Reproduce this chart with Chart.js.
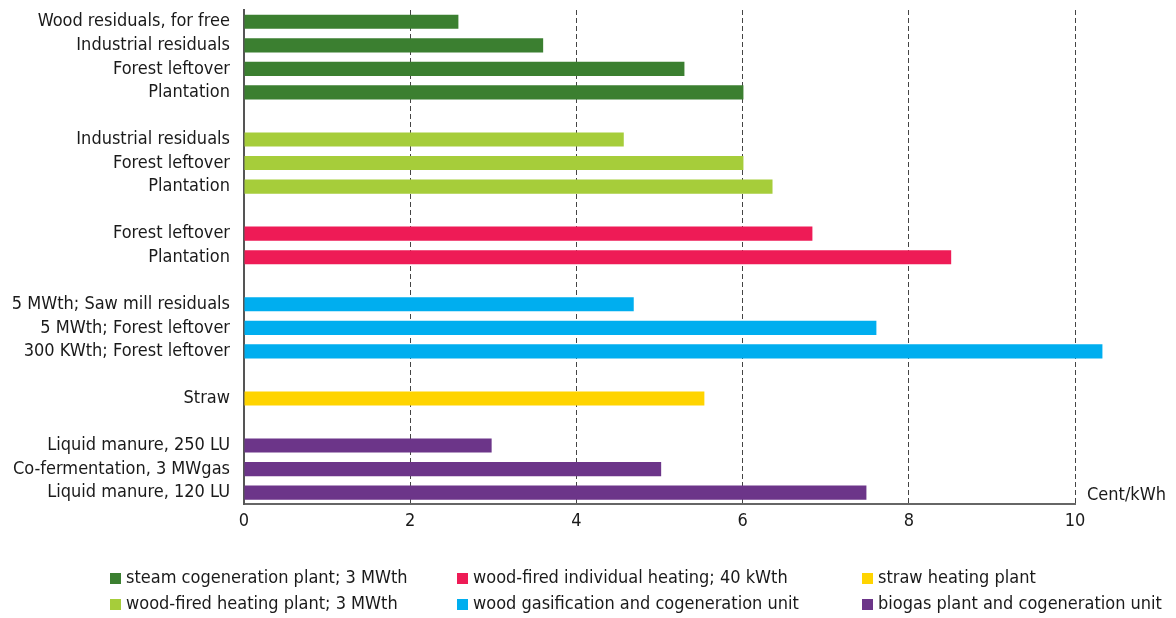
<!DOCTYPE html>
<html lang="en">
<head>
  <meta charset="UTF-8">
  <title>Heat production costs</title>
  <script src="https://cdn.jsdelivr.net/npm/chart.js"></script>
  <style>
    html, body { margin: 0; padding: 0; background: #fff; }
    .wrap { width: 1176px; height: 618px; position: relative; }
  </style>
</head>
<body>

<div class="wrap">
  <canvas id="grafik"></canvas>
</div>

<script>
  // rows top to bottom, '' = gap between groups
  const categories = [
    'Wood residuals, for free', 'Industrial residuals', 'Forest leftover', 'Plantation', '',
    'Industrial residuals', 'Forest leftover', 'Plantation', '',
    'Forest leftover', 'Plantation', '',
    '5 MWth; Saw mill residuals', '5 MWth; Forest leftover', '300 KWth; Forest leftover', '',
    'Straw', '',
    'Liquid manure, 250 LU', 'Co-fermentation, 3 MWgas', 'Liquid manure, 120 LU'
  ];

  const steamCogen   = [2.58, 3.60, 5.30, 6.01, null, null, null, null, null, null, null, null, null, null, null, null, null, null, null, null, null];
  const woodHeating  = [null, null, null, null, null, 4.57, 6.01, 6.36, null, null, null, null, null, null, null, null, null, null, null, null, null];
  const woodIndiv    = [null, null, null, null, null, null, null, null, null, 6.84, 8.51, null, null, null, null, null, null, null, null, null, null];
  const gasification = [null, null, null, null, null, null, null, null, null, null, null, null, 4.69, 7.61, 10.33, null, null, null, null, null, null];
  const strawPlant   = [null, null, null, null, null, null, null, null, null, null, null, null, null, null, null, null, 5.54, null, null, null, null];
  const biogas       = [null, null, null, null, null, null, null, null, null, null, null, null, null, null, null, null, null, null, 2.98, 5.02, 7.49];

  const seriesNames = [
    'steam cogeneration plant; 3 MWth',
    'wood-fired heating plant; 3 MWth',
    'wood-fired individual heating; 40 kWth',
    'wood gasification and cogeneration unit',
    'straw heating plant',
    'biogas plant and cogeneration unit'
  ];
  const seriesValues = [steamCogen, woodHeating, woodIndiv, gasification, strawPlant, biogas];
  const seriesColors = ['#3b7f30', '#a6cd3a', '#ee1b56', '#00aeef', '#ffd400', '#6c3589'];

  const xTicks = [0, 2, 4, 6, 8, 10];
  const unitLabel = 'Cent/kWh';

  const fontFamily = '"Liberation Sans Narrow", "DejaVu Sans Condensed", sans-serif';
  const teksWarna = '#1a1a1a';
  Chart.defaults.font.family = fontFamily;
  Chart.defaults.font.size = 18;
  Chart.defaults.color = teksWarna;

  // legend in 3 columns x 2 rows + unit text at end of axis
  const legendKolom = {
    id: 'legendKolom',
    afterDraw(chart) {
      const ctx = chart.ctx;
      const colX = [110, 457, 862];
      const rowY = [578, 604];
      ctx.save();
      ctx.font = '18px ' + fontFamily;
      ctx.textBaseline = 'middle';
      ctx.textAlign = 'left';
      chart.data.datasets.forEach((ds, i) => {
        const x = colX[Math.floor(i / 2)];
        const y = rowY[i % 2];
        ctx.fillStyle = ds.backgroundColor;
        ctx.fillRect(x, y - 5, 11, 11);
        ctx.fillStyle = teksWarna;
        ctx.fillText(ds.label, x + 16, y);
      });
      const xs = chart.scales.x;
      ctx.fillText(unitLabel, xs.right + 12, chart.chartArea.bottom - 9);
      ctx.restore();
    }
  };

  const ctx = document.getElementById('grafik').getContext('2d');
  const grafik = new Chart(ctx, {
    type: 'bar',
    data: {
      labels: categories,
      datasets: seriesValues.map((vals, i) => ({
        label: seriesNames[i],
        data: vals,
        backgroundColor: seriesColors[i],
        barPercentage: 0.6,
        categoryPercentage: 1.0,
        grouped: false,
        clip: false
      }))
    },
    options: {
      indexAxis: 'y',
      responsive: true,
      maintainAspectRatio: false,
      animation: false,
      layout: { padding: { top: 10, right: 101, bottom: 80, left: 0 } },
      plugins: {
        legend: { display: false },
        tooltip: { enabled: false }
      },
      scales: {
        x: {
          min: 0,
          max: 10,
          afterBuildTicks: (scale) => { scale.ticks = xTicks.map(v => ({ value: v })); },
          ticks: { padding: 6, color: teksWarna, font: { size: 18 } },
          grid: {
            drawTicks: false,
            color: (c) => c.tick && c.tick.value === 0 ? 'rgba(0,0,0,0)' : '#444',
            lineWidth: 1
          },
          border: { display: true, color: '#666', width: 2, dash: [5, 3] }
        },
        y: {
          afterFit: (scale) => {
            scale.width = 244;
            scale.paddingTop = 0;
            scale.paddingBottom = 0;
          },
          ticks: { padding: 14, color: teksWarna, font: { size: 18 }, autoSkip: false },
          grid: { display: false, drawTicks: false },
          border: { display: true, color: '#555', width: 2 }
        }
      }
    },
    plugins: [legendKolom]
  });
</script>

</body>
</html>
